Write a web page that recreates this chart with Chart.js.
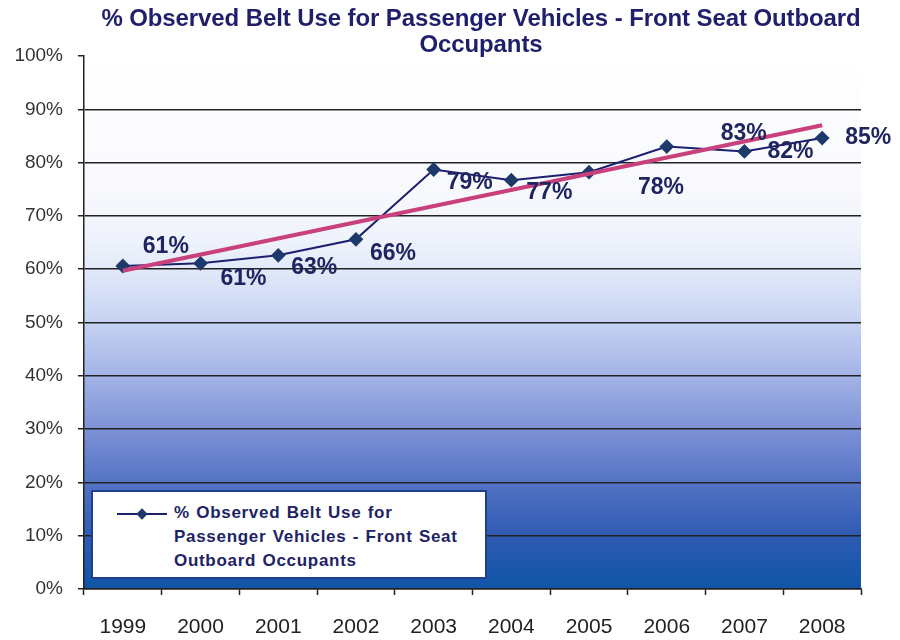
<!DOCTYPE html>
<html>
<head>
<meta charset="utf-8">
<script src="https://cdn.jsdelivr.net/npm/chart.js@4"></script>
<style>
  html, body { margin: 0; padding: 0; background: #fff; }
  #wrap { position: relative; width: 900px; height: 640px; overflow: hidden; }
  #title {
    position: absolute; left: 74px; width: 814px; top: 5px;
    text-align: center; font-family: "Liberation Sans", Arial, sans-serif;
    font-weight: bold; font-size: 24px; line-height: 26px; color: #1f1f6b; letter-spacing: -0.1px;
  }
  #legend {
    position: absolute; left: 91px; top: 490px; width: 392px; height: 85px;
    background: #fff; border: 2px solid #1e3f8f;
  }
  #legend svg { position: absolute; left: 23px; top: 12px; }
  #legendText {
    position: absolute; left: 81px; top: 9px; width: 310px; white-space: nowrap;
    font-family: "Liberation Sans", Arial, sans-serif; font-weight: bold;
    font-size: 17px; line-height: 24px; color: #1d2366; letter-spacing: 0.7px; word-spacing: 1px;
  }
</style>
</head>
<body>
<div id="wrap">
  <canvas id="c" width="900" height="640"></canvas>
  <div id="title">% Observed Belt Use for Passenger Vehicles - Front Seat Outboard<br>Occupants</div>
  <div id="legend">
    <svg width="54" height="20"><line x1="1" y1="10" x2="51" y2="10" stroke="#1c1f6e" stroke-width="2"/><rect x="22" y="6" width="8" height="8" fill="#1d3a6a" transform="rotate(45 26 10)"/></svg>
    <div id="legendText">% Observed Belt Use for<br>Passenger Vehicles - Front Seat<br>Outboard Occupants</div>
  </div>
</div>
<script>
// ---- data ----
const years = ['1999', '2000', '2001', '2002', '2003', '2004', '2005', '2006', '2007', '2008'];
const beltUse = [60.6, 61.1, 62.6, 65.6, 78.7, 76.7, 78.2, 83.0, 82.1, 84.6];
const trendLine = [59.7, null, null, null, null, null, null, null, null, 87.0];
const yTickValues = [0, 10, 20, 30, 40, 50, 60, 70, 80, 90, 100];
const seriesName = '% Observed Belt Use for Passenger Vehicles - Front Seat Outboard Occupants';

// ---- styling ----
const labelOffsets = [[43, -19], [43, 15], [36, 12], [37, 14], [36, 13], [38, 12], [72, 15], [77, -13], [46, 0], [46, 0]];

const bgPlugin = {
  id: 'bgGradient',
  beforeDraw(chart) {
    const { ctx, chartArea: a, scales: { y } } = chart;
    const g = ctx.createLinearGradient(0, y.getPixelForValue(100), 0, y.getPixelForValue(0));
    const stops = [[100, '#ffffff'], [75, '#f8f9fd'], [65, '#eef2fb'], [60, '#e2e9f9'], [50, '#c6d2f2'],
                   [40, '#a3b3e6'], [30, '#7d92d6'], [20, '#5473c4'], [10, '#2f5bb2'], [0, '#0f55a6']];
    stops.forEach(([v, c]) => g.addColorStop((100 - v) / 100, c));
    ctx.save();
    ctx.fillStyle = g;
    ctx.fillRect(a.left, a.top, a.right - a.left, a.bottom - a.top);
    ctx.restore();
  }
};

const labelPlugin = {
  id: 'pointLabels',
  afterDatasetsDraw(chart) {
    const { ctx } = chart;
    const meta = chart.getDatasetMeta(1);
    ctx.save();
    ctx.font = 'bold 23px "Liberation Sans", Arial, sans-serif';
    ctx.fillStyle = '#1f2560';
    ctx.textAlign = 'center';
    ctx.textBaseline = 'middle';
    meta.data.forEach((pt, i) => {
      const o = labelOffsets[i];
      ctx.fillText(Math.round(beltUse[i]) + '%', pt.x + o[0], pt.y + o[1]);
    });
    ctx.restore();
  }
};

new Chart(document.getElementById('c'), {
  type: 'line',
  data: {
    labels: years,
    datasets: [
      {
        label: 'Trend',
        data: trendLine,
        spanGaps: true,
        borderColor: '#c8407c',
        borderWidth: 4,
        pointRadius: 0,
        order: 0
      },
      {
        label: seriesName,
        data: beltUse,
        borderColor: '#1c1f6e',
        borderWidth: 2,
        pointStyle: 'rectRot',
        pointRadius: 6,
        pointBackgroundColor: '#1d3a6a',
        pointBorderColor: '#1d3a6a',
        tension: 0,
        order: 1
      }
    ]
  },
  options: {
    responsive: false,
    animation: false,
    layout: { padding: { top: 56, right: 39, left: 0, bottom: 0 } },
    plugins: { legend: { display: false }, title: { display: false }, tooltip: { enabled: false } },
    scales: {
      x: {
        offset: true,
        grid: { drawOnChartArea: false, drawTicks: true, tickLength: 6, tickColor: '#222', tickWidth: 1.5, offset: true },
        border: { display: true, color: '#222', width: 1.5 },
        ticks: { font: { size: 21, family: '"Liberation Sans", Arial, sans-serif' }, color: '#222', padding: 20, maxRotation: 0 },
        afterFit(s) { s.height = 51; }
      },
      y: {
        min: 0, max: 100,
        afterBuildTicks(s) { s.ticks = yTickValues.map(v => ({ value: v })); },
        ticks: { font: { size: 19, family: '"Liberation Sans", Arial, sans-serif' }, color: '#333', padding: 15,
                 callback: v => v + '%' },
        grid: { color: c => (c.tick && c.tick.value === 100) ? 'rgba(0,0,0,0)' : '#222', lineWidth: 1.5,
                tickLength: 6, tickColor: '#222', tickWidth: 1.5 },
        border: { display: true, color: '#222', width: 1.5 },
        afterFit(s) { s.width = 84; }
      }
    }
  },
  plugins: [bgPlugin, labelPlugin]
});
</script>
</body>
</html>
